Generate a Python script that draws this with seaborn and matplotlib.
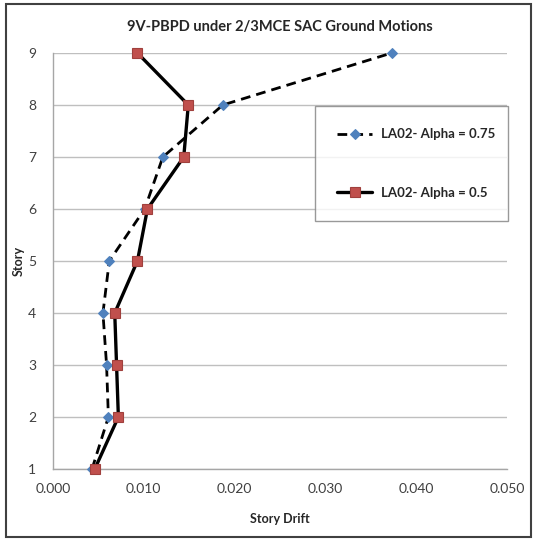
import matplotlib
matplotlib.use("Agg")
import matplotlib.pyplot as plt
import seaborn as sns
import pandas as pd
from matplotlib.patches import Rectangle

stories = [1, 2, 3, 4, 5, 6, 7, 8, 9]
drift_alpha_075 = [0.0043, 0.0061, 0.0059, 0.0055, 0.0062, 0.0101, 0.0121, 0.0187, 0.0373]
drift_alpha_050 = [0.0046, 0.0072, 0.0070, 0.0068, 0.0093, 0.0104, 0.0144, 0.0149, 0.0093]
series_names = ["LA02- Alpha = 0.75", "LA02- Alpha = 0.5"]
x_ticks = [0.000, 0.010, 0.020, 0.030, 0.040, 0.050]

sns.set_theme(style="white")
plt.rcParams["font.family"] = ["Lato", "DejaVu Sans"]

W, H = 537, 541
fig = plt.figure(figsize=(W / 100, H / 100), dpi=100)
ax = fig.add_axes([53 / W, 1 - 469 / H, (507 - 53) / W, (469 - 53) / H])

df = pd.DataFrame({
    "drift": drift_alpha_075 + drift_alpha_050,
    "story": stories + stories,
    "series": [series_names[0]] * 9 + [series_names[1]] * 9,
})

blue = "#4F81BD"
red = "#C0504D"

sns.lineplot(data=df[df.series == series_names[0]], x="drift", y="story",
             sort=False, estimator=None, ax=ax, color="black", lw=2.0,
             linestyle=(0, (3.5, 2.2)), marker="D", markersize=5.5,
             markerfacecolor=blue, markeredgecolor=blue, label=series_names[0],
             zorder=3, clip_on=False)
sns.lineplot(data=df[df.series == series_names[1]], x="drift", y="story",
             sort=False, estimator=None, ax=ax, color="black", lw=2.4,
             marker="s", markersize=7.5, markerfacecolor=red,
             markeredgecolor="#A0403D", markeredgewidth=0.8,
             label=series_names[1], zorder=4, clip_on=False)

ax.set_xlim(0, 0.05)
ax.set_ylim(1, 9)
ax.set_xticks(x_ticks)
ax.set_xticklabels([f"{v:.3f}" for v in x_ticks])
ax.set_yticks(stories)
ax.yaxis.grid(True, color="#BFBFBF", lw=1.0)
ax.xaxis.grid(False)
ax.set_axisbelow(True)
for side in ["top", "right"]:
    ax.spines[side].set_visible(False)
for side in ["left", "bottom"]:
    ax.spines[side].set_color("#A6A6A6")
    ax.spines[side].set_linewidth(1.0)
ax.tick_params(axis="both", which="both", direction="out", length=4,
               color="#A6A6A6", labelsize=10, labelcolor="#404040", pad=6)
ax.tick_params(axis="y", pad=8)

ax.set_xlabel("Story Drift", fontsize=9, fontweight="bold", color="#262626")
ax.set_ylabel("Story", fontsize=9, fontweight="bold", color="#262626")
ax.xaxis.set_label_coords(0.5, -(513 - 469) / (469 - 53))
ax.yaxis.set_label_coords(-(53 - 25) / (507 - 53), 0.5)

fig.text(280 / W, 1 - 27 / H, "9V-PBPD under 2/3MCE SAC Ground Motions",
         ha="center", va="center", fontsize=10.5, fontweight="bold", color="#262626")

leg_x0, leg_x1, leg_top, leg_bot = 315, 508, 105, 222
leg = ax.legend(loc="center left",
                bbox_to_anchor=((leg_x0 - 53) / (507 - 53), (469 - leg_bot) / (469 - 53),
                                (leg_x1 - leg_x0) / (507 - 53), (leg_bot - leg_top) / (469 - 53)),
                mode="expand", frameon=True, fancybox=False, fontsize=9.5,
                labelspacing=3.5, handlelength=2.6, borderpad=1.7, handletextpad=0.7,
                borderaxespad=0)
leg.get_frame().set_edgecolor("#808080")
leg.get_frame().set_linewidth(1.0)
for t in leg.get_texts():
    t.set_fontweight("bold")
    t.set_color("#262626")

fig.patches.append(Rectangle((6 / W, 1 - 537 / H), (531 - 6) / W, (537 - 4) / H,
                             transform=fig.transFigure, fill=False,
                             edgecolor="#404040", lw=1.5))

fig.savefig("out.png", dpi=100)
